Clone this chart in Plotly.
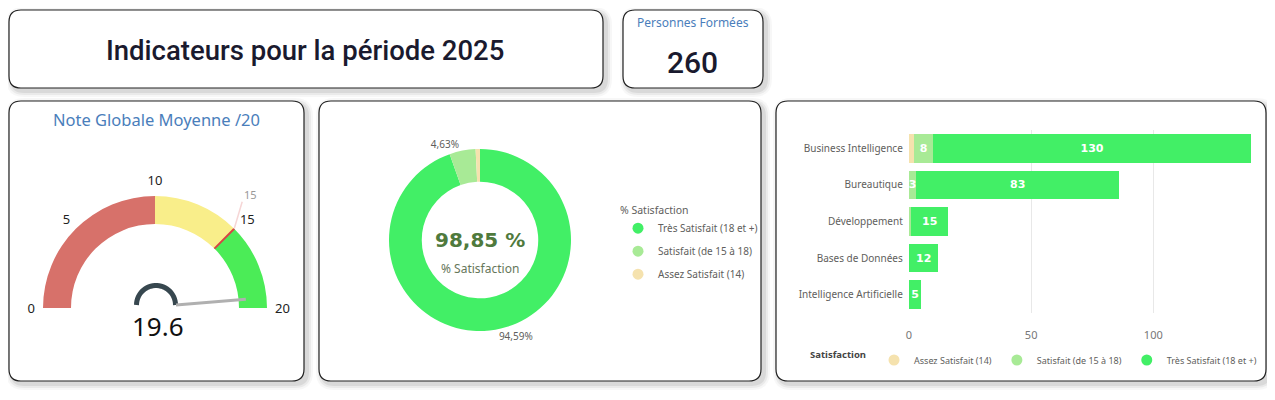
import numpy as np
import plotly.graph_objects as go

periode = 2025
personnes_formees = 260
note_moyenne = 19.6
note_seuil = 15
gauge_ticks = [0, 5, 10, 15, 20]
gauge_bornes = [0, 10, 15, 20]

niveaux = ["Assez Satisfait (14)", "Satisfait (de 15 à 18)", "Très Satisfait (18 et +)"]
domaines = ["Business Intelligence", "Bureautique", "Développement",
            "Bases de Données", "Intelligence Artificielle"]
assez = [2, 0, 0, 0, 0]
satisfait = [8, 3, 1, 0, 0]
tres = [130, 83, 15, 12, 5]

couleurs = {"Assez Satisfait (14)": "#F5E2AE",
            "Satisfait (de 15 à 18)": "#A8EA96",
            "Très Satisfait (18 et +)": "#42EF66"}

# la page ajoute 8 px de marge autour de la figure
OFF = 8
W, H = 1275 - 2 * OFF, 400 - 2 * OFF


def px(x):
    return (x - OFF) / W


def py(y):
    return 1 - (y - OFF) / H


def rrect(x0, y0, x1, y1, r=12):
    rx, ry = r / W, r / H
    a, b, c, d = px(x0), py(y0), px(x1), py(y1)
    return (f"M {a+rx},{b} L {c-rx},{b} Q {c},{b} {c},{b-ry} L {c},{d+ry} "
            f"Q {c},{d} {c-rx},{d} L {a+rx},{d} Q {a},{d} {a},{d+ry} "
            f"L {a},{b-ry} Q {a},{b} {a+rx},{b} Z")


fig = go.Figure()

# cartes avec ombre
cartes = [(9, 10, 603, 88), (623, 10, 763, 88), (9, 101, 304, 381),
          (319, 101, 761, 381), (776, 101, 1266, 381)]
shapes = []
for (x0, y0, x1, y1) in cartes:
    for k, op in [(6, 0.03), (4, 0.05), (2, 0.07)]:
        shapes.append(dict(type="path", xref="paper", yref="paper", layer="below",
                           path=rrect(x0 - k + 3, y0 - k + 3, x1 + k + 3, y1 + k + 3, 12 + k),
                           fillcolor=f"rgba(0,0,0,{op})", line=dict(width=0)))
    shapes.append(dict(type="path", xref="paper", yref="paper", layer="below",
                       path=rrect(x0, y0, x1, y1, 12), fillcolor="white",
                       line=dict(color="#222222", width=1.2)))

# jauge
cx, cy, R = 155, 308, 112
fig.add_trace(go.Indicator(
    mode="gauge", value=note_moyenne,
    domain=dict(x=[px(cx - R), px(cx + R)], y=[py(cy), py(cy - R)]),
    gauge=dict(
        shape="angular",
        axis=dict(range=[gauge_ticks[0], gauge_ticks[-1]], tickvals=gauge_ticks,
                  ticks="outside", ticklen=5, tickcolor="rgba(0,0,0,0)",
                  tickfont=dict(size=13, color="#222222", family="Noto Sans")),
        bar=dict(color="rgba(0,0,0,0)", thickness=0),
        bgcolor="white", borderwidth=0,
        steps=[dict(range=[gauge_bornes[0], gauge_bornes[1]], color="#D7716A"),
               dict(range=[gauge_bornes[1], gauge_bornes[2]], color="#F9EE8A"),
               dict(range=[gauge_bornes[2], gauge_bornes[3]], color="#4BEC57")],
        threshold=dict(line=dict(color="#D64545", width=2), thickness=1, value=note_seuil),
    ),
))

# repère de la cible
a15 = np.pi * (1 - note_seuil / gauge_ticks[-1])
shapes.append(dict(type="line", xref="paper", yref="paper",
                   x0=px(cx + R * np.cos(a15)), y0=py(cy - R * np.sin(a15)),
                   x1=px(cx + R * np.cos(a15) + 8), y1=py(cy - R * np.sin(a15) - 27),
                   line=dict(color="#F6D6D6", width=1.5)))

# aiguille de la jauge
hx, hy = 156, 305
t = np.linspace(0, np.pi, 30)
hub = "M " + " L ".join(f"{px(hx + 19.5 * np.cos(a))},{py(hy - 19.5 * np.sin(a))}" for a in t)
shapes.append(dict(type="path", xref="paper", yref="paper", path=hub,
                   line=dict(color="#37474F", width=5)))
ang = np.pi * (1 - note_moyenne / gauge_ticks[-1])
shapes.append(dict(type="line", xref="paper", yref="paper",
                   x0=px(hx + 20), y0=py(hy), x1=px(hx + 90 * np.cos(ang)),
                   y1=py(hy - 90 * np.sin(ang)), line=dict(color="#B0B0B0", width=3)))

# anneau satisfaction
total = [sum(assez), sum(satisfait), sum(tres)]
valeurs = [total[2], total[1], total[0]]
noms = [niveaux[2], niveaux[1], niveaux[0]]
part = [v / sum(valeurs) * 100 for v in valeurs]
etiquettes = [f"{p:.2f}%".replace(".", ",") if p > 1 else "" for p in part]
fig.add_trace(go.Pie(
    values=valeurs, labels=noms, text=etiquettes, textinfo="text",
    textposition="outside", textfont=dict(size=10, color="#605E5C", family="Noto Sans"),
    hole=0.64, sort=False, direction="clockwise", rotation=0,
    marker=dict(colors=[couleurs[n] for n in noms], line=dict(width=0)),
    domain=dict(x=[px(389), px(571)], y=[py(331), py(149)]),
    showlegend=False,
))
taux = (total[1] + total[2]) / personnes_formees * 100

# barres empilées
for niv, vals in zip(niveaux, [assez, satisfait, tres]):
    fig.add_trace(go.Bar(
        y=domaines, x=vals, orientation="h", name=niv,
        marker=dict(color=couleurs[niv], line=dict(width=0)),
        text=[str(v) if v >= 3 else "" for v in vals], textposition="inside",
        insidetextanchor="middle", constraintext="none", cliponaxis=False,
        textfont=dict(size=11, color="white", family="DejaVu Sans", weight="bold"),
        showlegend=False,
    ))

# légendes à pastilles rondes
for niv in reversed(niveaux):
    fig.add_trace(go.Scatter(x=[None], y=[None], mode="markers", name=niv,
                             legendgroup="d" + niv,
                             marker=dict(color=couleurs[niv], size=11), legend="legend"))
for niv in niveaux:
    fig.add_trace(go.Scatter(x=[None], y=[None], mode="markers", name=niv,
                             marker=dict(color=couleurs[niv], size=11), legend="legend2"))

annotations = [
    dict(x=px(305), y=py(50), text=f"Indicateurs pour la période {periode}",
         font=dict(size=27.5, color="#1A1A2E", family="Roboto", weight=500)),
    dict(x=px(693), y=py(22), text="Personnes Formées",
         font=dict(size=12, color="#4A7EBB", family="Noto Sans")),
    dict(x=px(693), y=py(62), text=str(personnes_formees),
         font=dict(size=30, color="#1A1A2E", family="Roboto", weight=500)),
    dict(x=px(156), y=py(119), text="Note Globale Moyenne /20",
         font=dict(size=16.5, color="#4A7EBB", family="Noto Sans")),
    dict(x=px(158), y=py(326), text=f"{note_moyenne}",
         font=dict(size=26, color="#111111", family="Noto Sans")),
    dict(x=px(250), y=py(194), text=str(note_seuil),
         font=dict(size=11, color="#999999", family="Noto Sans")),
    dict(x=px(480), y=py(240), text=f"{taux:.2f} %".replace(".", ","),
         font=dict(size=20, color="#4F7A3D", family="DejaVu Sans", weight="bold")),
    dict(x=px(480), y=py(268), text="% Satisfaction",
         font=dict(size=12, color="#66775A", family="Noto Sans")),
]
for a in annotations:
    a.update(xref="paper", yref="paper", showarrow=False, xanchor="center", yanchor="middle")

fig.update_layout(
    width=W, height=H, margin=dict(l=0, r=0, t=0, b=0, autoexpand=False),
    paper_bgcolor="white", plot_bgcolor="rgba(0,0,0,0)",
    barmode="stack", bargap=0.22,
    shapes=shapes, annotations=annotations,
    font=dict(family="Noto Sans", color="#605E5C"),
    xaxis=dict(domain=[px(909), px(1251)], range=[0, 140], tickvals=[0, 50, 100],
               showgrid=True, gridcolor="#E8E8E8", zeroline=False, automargin=False,
               ticklabelstandoff=14, tickfont=dict(size=11, color="#777777")),
    yaxis=dict(domain=[py(313), py(130)], autorange="reversed", showgrid=False,
               automargin=False, ticksuffix="  ", tickfont=dict(size=10, color="#605E5C")),
    legend=dict(x=px(618), y=py(200), xanchor="left", yanchor="top", traceorder="grouped",
                title=dict(text="% Satisfaction", font=dict(size=10.5, color="#605E5C")),
                font=dict(size=10, color="#605E5C"), bgcolor="rgba(0,0,0,0)",
                itemwidth=30, tracegroupgap=4),
    legend2=dict(x=px(808), y=py(360), xanchor="left", yanchor="middle", orientation="h",
                 traceorder="normal",
                 title=dict(text="Satisfaction", side="left",
                            font=dict(size=9.5, color="#444444", weight="bold")),
                 font=dict(size=9, color="#605E5C"), bgcolor="rgba(0,0,0,0)",
                 itemwidth=30),
)

fig.write_html("out.html")
